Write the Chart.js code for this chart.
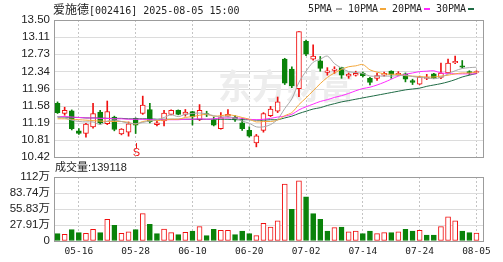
<!DOCTYPE html>
<html lang="zh-CN">
  <head>
    <meta charset="UTF-8" />
    <title>爱施德 日K</title>
    <style>
      html,
      body {
        margin: 0;
        padding: 0;
        background: #fff;
      }
      body {
        width: 503px;
        height: 262px;
        position: relative;
        overflow: hidden;
        color: #222;
      }
      canvas {
        position: absolute;
        left: 0;
      }
      #price {
        top: 0;
      }
      #volume {
        top: 160px;
      }
      .title {
        position: absolute;
        left: 53px;
        top: 2px;
        line-height: 14px;
        white-space: nowrap;
        font-family: 'DejaVu Sans Mono', monospace;
        font-size: 10px;
      }
      .cn {
        font-family: 'Noto Sans CJK SC', sans-serif;
        font-size: 12px;
      }
      .legend span {
        position: absolute;
        top: 2px;
        line-height: 14px;
        font-family: 'DejaVu Sans Mono', monospace;
        font-size: 10px;
        white-space: nowrap;
      }
      .legend i {
        position: absolute;
        top: 8px;
        width: 6px;
        height: 2px;
      }
      .vol-label {
        position: absolute;
        left: 55px;
        top: 160px;
        line-height: 14px;
        font-family: 'Liberation Sans', 'Noto Sans CJK SC', sans-serif;
        font-size: 11px;
        white-space: nowrap;
      }
    </style>
  </head>
  <body>
    <canvas id="price" width="503" height="168"></canvas>
    <canvas id="volume" width="503" height="102"></canvas>

    <div class="title"><span class="cn">爱施德</span>[002416] 2025-08-05 15:00</div>
    <div class="legend">
      <span style="left: 308px">5PMA</span><i style="left: 336px; background: #a8a8a8"></i>
      <span style="left: 348px">10PMA</span><i style="left: 380px; background: #f3a73a"></i>
      <span style="left: 392px">20PMA</span><i style="left: 424px; background: #ff2cff"></i>
      <span style="left: 436px">30PMA</span><i style="left: 468px; background: #1f6b45"></i>
    </div>
    <div class="vol-label">成交量:139118</div>

    <script src="https://cdn.jsdelivr.net/npm/chart.js"></script>

    <script>
      // trading days shown on the chart
      const dates = [
        '05-13', '05-14', '05-15', '05-16', '05-19', '05-20', '05-21', '05-22', '05-23', '05-26',
        '05-27', '05-28', '05-29', '05-30', '06-03', '06-04', '06-05', '06-06', '06-09', '06-10',
        '06-11', '06-12', '06-13', '06-16', '06-17', '06-18', '06-19', '06-20', '06-23', '06-24',
        '06-25', '06-26', '06-27', '06-30', '07-01', '07-02', '07-03', '07-04', '07-07', '07-08',
        '07-09', '07-10', '07-11', '07-14', '07-15', '07-16', '07-17', '07-18', '07-21', '07-22',
        '07-23', '07-24', '07-25', '07-28', '07-29', '07-30', '07-31', '08-01', '08-04', '08-05',
      ];
      const dateTicks = ['05-16', '05-28', '06-10', '06-20', '07-02', '07-14', '07-24', '08-05'];

      const opens = [
        11.63, 11.40, 11.46, 11.01, 10.95, 11.10, 11.43, 11.17, 11.32, 10.94,
        10.98, 11.29, 11.40, 11.49, 11.15, 11.23, 11.38, 11.47, 11.38, 11.44,
        11.26, 11.40, 11.25, 11.06, 11.34, 11.32, 11.19, 11.02, 10.74, 11.02,
        11.35, 11.45, 12.62, 12.40, 11.96, 13.02, 12.62, 12.58, 12.32, 12.37,
        12.43, 12.24, 12.26, 12.31, 12.19, 12.19, 12.26, 12.35, 12.27, 12.29,
        12.14, 12.06, 12.19, 12.29, 12.21, 12.31, 12.54, 12.47, 12.34, 12.32,
      ];
      const highs = [
        11.66, 11.54, 11.48, 11.06, 11.18, 11.63, 11.47, 11.68, 11.34, 11.06,
        11.21, 11.30, 11.79, 11.63, 11.27, 11.47, 11.48, 11.48, 11.49, 11.45,
        11.60, 11.45, 11.32, 11.42, 11.49, 11.35, 11.29, 11.10, 10.93, 11.42,
        11.56, 11.77, 12.64, 12.45, 13.24, 13.05, 12.94, 12.68, 12.43, 12.45,
        12.44, 12.31, 12.35, 12.33, 12.21, 12.31, 12.33, 12.36, 12.34, 12.31,
        12.17, 12.24, 12.28, 12.30, 12.53, 12.62, 12.69, 12.59, 12.36, 12.36,
      ];
      const lows = [
        11.40, 11.36, 11.03, 10.93, 10.87, 11.07, 11.16, 11.15, 11.01, 10.92,
        10.89, 10.95, 11.38, 11.19, 11.12, 11.12, 11.37, 11.37, 11.34, 11.14,
        11.24, 11.33, 11.12, 11.05, 11.32, 11.22, 11.02, 10.87, 10.65, 10.98,
        11.33, 11.42, 12.05, 11.98, 11.78, 12.70, 12.60, 12.35, 12.26, 12.30,
        12.19, 12.19, 12.24, 12.22, 12.04, 12.14, 12.24, 12.19, 12.25, 12.11,
        12.05, 12.05, 12.16, 12.18, 12.18, 12.29, 12.52, 12.42, 12.27, 12.30,
      ];
      const closes = [
        11.42, 11.47, 11.06, 10.95, 11.16, 11.40, 11.19, 11.44, 11.04, 11.05,
        11.17, 11.14, 11.59, 11.21, 11.19, 11.41, 11.47, 11.38, 11.43, 11.32,
        11.47, 11.37, 11.14, 11.31, 11.38, 11.26, 11.06, 10.89, 10.90, 11.40,
        11.50, 11.66, 12.08, 12.02, 13.24, 12.73, 12.69, 12.41, 12.36, 12.40,
        12.26, 12.28, 12.30, 12.25, 12.10, 12.25, 12.30, 12.28, 12.30, 12.17,
        12.10, 12.22, 12.21, 12.20, 12.31, 12.53, 12.57, 12.44, 12.31, 12.34,
      ];

      // moving averages
      const ma5 = [
        11.33, 11.30, 11.25, 11.22, 11.21, 11.21, 11.15, 11.23, 11.25, 11.22,
        11.18, 11.17, 11.20, 11.23, 11.26, 11.31, 11.37, 11.33, 11.38, 11.40,
        11.41, 11.39, 11.35, 11.32, 11.33, 11.29, 11.23, 11.18, 11.10, 11.10,
        11.15, 11.27, 11.51, 11.73, 12.10, 12.35, 12.55, 12.62, 12.69, 12.52,
        12.42, 12.34, 12.32, 12.30, 12.24, 12.24, 12.24, 12.24, 12.25, 12.26,
        12.23, 12.21, 12.20, 12.18, 12.21, 12.29, 12.36, 12.41, 12.43, 12.44,
      ];
      const ma10 = [
        11.28, 11.28, 11.27, 11.26, 11.25, 11.24, 11.23, 11.22, 11.22, 11.22,
        11.20, 11.16, 11.22, 11.24, 11.24, 11.25, 11.27, 11.27, 11.31, 11.33,
        11.36, 11.38, 11.34, 11.35, 11.37, 11.35, 11.31, 11.27, 11.21, 11.22,
        11.22, 11.25, 11.35, 11.42, 11.60, 11.75, 11.91, 12.07, 12.21, 12.31,
        12.39, 12.45, 12.47, 12.50, 12.38, 12.33, 12.29, 12.28, 12.28, 12.25,
        12.24, 12.23, 12.22, 12.22, 12.24, 12.26, 12.29, 12.31, 12.31, 12.33,
      ];
      const ma20 = [
        11.33, 11.33, 11.32, 11.31, 11.30, 11.30, 11.29, 11.29, 11.28, 11.28,
        11.27, 11.27, 11.27, 11.26, 11.26, 11.26, 11.26, 11.26, 11.27, 11.27,
        11.28, 11.27, 11.28, 11.30, 11.30, 11.30, 11.29, 11.27, 11.26, 11.27,
        11.29, 11.32, 11.34, 11.38, 11.48, 11.55, 11.61, 11.67, 11.71, 11.76,
        11.80, 11.85, 11.91, 11.96, 11.99, 12.04, 12.10, 12.17, 12.24, 12.28,
        12.31, 12.34, 12.35, 12.36, 12.31, 12.30, 12.29, 12.29, 12.29, 12.29,
      ];
      const ma30 = [
        11.32, 11.32, 11.31, 11.31, 11.30, 11.30, 11.30, 11.29, 11.29, 11.29,
        11.28, 11.28, 11.28, 11.28, 11.27, 11.27, 11.27, 11.27, 11.27, 11.27,
        11.27, 11.27, 11.27, 11.27, 11.27, 11.26, 11.26, 11.26, 11.25, 11.25,
        11.26, 11.26, 11.30, 11.34, 11.40, 11.45, 11.50, 11.53, 11.58, 11.62,
        11.66, 11.69, 11.72, 11.75, 11.78, 11.81, 11.84, 11.87, 11.90, 11.93,
        11.95, 11.97, 12.01, 12.04, 12.07, 12.11, 12.16, 12.22, 12.26, 12.30,
      ];

      // volume in 万 shares
      const volumes = [
        12.8, 11.7, 19.8, 14.6, 13.4, 20.4, 14.6, 37.9, 27.4, 13.4,
        15.8, 19.8, 47.8, 29.2, 12.8, 21.0, 14.6, 11.1, 15.2, 17.5,
        25.1, 9.3, 20.4, 18.7, 18.7, 11.1, 17.5, 12.8, 9.3, 30.9,
        24.5, 35.0, 99.2, 55.4, 105.0, 77.0, 47.8, 37.9, 17.5, 23.3,
        24.5, 15.8, 17.5, 12.8, 17.5, 12.8, 14.6, 14.6, 15.8, 20.4,
        17.5, 18.7, 10.5, 10.5, 25.1, 42.0, 35.0, 17.5, 14.6, 13.91,
      ];

      const priceTicks = [10.42, 10.805, 11.19, 11.575, 11.96, 12.345, 12.73, 13.115, 13.5];
      const priceTickLabels = ['10.42', '10.81', '11.19', '11.58', '11.96', '12.34', '12.73', '13.11', '13.50'];
      const volumeTicks = [0, 27.915, 55.83, 83.745, 111.66];
      const volumeTickLabels = ['0', '27.91万', '55.83万', '83.74万', '112万'];

      const signalIndex = 11;

      const RED = '#f01010';
      const GREEN = '#0a820a';

      const candleUp = dates.map((d, i) => closes[i] >= opens[i]);
      // volume colour follows change against the previous close
      const volumeUp = dates.map((d, i) =>
        i === 0 ? closes[i] >= opens[i] : closes[i] >= closes[i - 1]
      );

      const labelFont = { family: "'Liberation Sans', 'Noto Sans CJK SC', sans-serif", size: 11.5 };

      function gridColor(ctx) {
        return dateTicks.includes(dates[ctx.index]) ? '#c4c4c4' : 'rgba(0,0,0,0)';
      }

      // horizontal grid + outer frame, reaching a few px past the last bar like the original
      const framePlugin = {
        id: 'frame',
        beforeDatasetsDraw(chart) {
          const { ctx, chartArea: a, scales } = chart;
          const y = scales.y;
          const right = Math.round(a.right) + 3;
          ctx.save();
          ctx.lineWidth = 1;
          ctx.strokeStyle = '#dcdcdc';
          y.ticks.forEach((t) => {
            const py = Math.round(y.getPixelForValue(t.value)) + 0.5;
            ctx.beginPath();
            ctx.moveTo(a.left, py);
            ctx.lineTo(right, py);
            ctx.stroke();
          });
          ctx.strokeStyle = '#9c9c9c';
          ctx.strokeRect(
            Math.round(a.left) + 0.5,
            Math.round(a.top) + 0.5,
            right - Math.round(a.left),
            Math.round(a.bottom) - Math.round(a.top)
          );
          ctx.restore();
        },
      };

      const watermarkPlugin = {
        id: 'watermark',
        beforeDatasetsDraw(chart) {
          const { ctx } = chart;
          ctx.save();
          ctx.fillStyle = '#ededed';
          ctx.font = "bold 34px 'Noto Sans CJK SC'";
          ctx.textBaseline = 'middle';
          ctx.fillText('东方财富', 218, 86);
          ctx.restore();
        },
      };

      const signalPlugin = {
        id: 'signal',
        afterDatasetsDraw(chart) {
          const { ctx, scales } = chart;
          const px = Math.round(scales.x.getPixelForValue(signalIndex)) + 0.5;
          const bottom = scales.y.bottom;
          ctx.save();
          ctx.strokeStyle = RED;
          ctx.fillStyle = RED;
          ctx.lineWidth = 1;
          ctx.beginPath();
          ctx.moveTo(px, bottom - 14);
          ctx.lineTo(px, bottom - 9);
          ctx.stroke();
          ctx.font = "11px 'Liberation Sans'";
          ctx.textAlign = 'center';
          ctx.textBaseline = 'alphabetic';
          ctx.fillText('S', px, bottom - 1);
          ctx.restore();
        },
      };

      function maLine(label, data, color) {
        return {
          type: 'line',
          label,
          data,
          borderColor: color,
          borderWidth: 1,
          pointRadius: 0,
          tension: 0.3,
          order: 0,
        };
      }

      new Chart(document.getElementById('price'), {
        type: 'bar',
        data: {
          labels: dates,
          datasets: [
            maLine('5PMA', ma5, '#a8a8a8'),
            maLine('10PMA', ma10, '#f3a73a'),
            maLine('20PMA', ma20, '#ff2cff'),
            maLine('30PMA', ma30, '#1f6b45'),
            {
              label: 'body',
              data: dates.map((d, i) => [opens[i], closes[i]]),
              backgroundColor: candleUp.map((up) => (up ? '#ffffff' : GREEN)),
              borderColor: candleUp.map((up) => (up ? RED : GREEN)),
              borderWidth: 1,
              borderSkipped: false,
              barThickness: 5,
              grouped: false,
              order: 1,
            },
            {
              label: 'wick',
              data: dates.map((d, i) => [lows[i], highs[i]]),
              backgroundColor: candleUp.map((up) => (up ? RED : GREEN)),
              borderWidth: 0,
              barThickness: 1,
              grouped: false,
              order: 2,
            },
          ],
        },
        options: {
          responsive: false,
          animation: false,
          events: [],
          layout: { padding: { top: 20, right: 23, left: 0, bottom: 0 } },
          plugins: { legend: { display: false }, tooltip: { enabled: false } },
          scales: {
            x: {
              offset: true,
              grid: { offset: false, drawTicks: false, color: gridColor },
              border: { display: false, dash: [2, 2] },
              ticks: { display: false },
              afterFit: (s) => {
                s.height = 8;
              },
            },
            y: {
              min: 10.42,
              max: 13.5,
              afterBuildTicks: (s) => {
                s.ticks = priceTicks.map((v) => ({ value: v }));
              },
              afterFit: (s) => {
                s.width = 54;
              },
              grid: { drawOnChartArea: false, drawTicks: false },
              border: { display: false },
              ticks: {
                autoSkip: false,
                padding: 4,
                color: '#222',
                font: labelFont,
                callback: (v, i) => priceTickLabels[i],
              },
            },
          },
        },
        plugins: [framePlugin, watermarkPlugin, signalPlugin],
      });

      new Chart(document.getElementById('volume'), {
        type: 'bar',
        data: {
          labels: dates,
          datasets: [
            {
              label: '成交量',
              data: volumes,
              backgroundColor: volumeUp.map((up) => (up ? '#ffffff' : GREEN)),
              borderColor: volumeUp.map((up) => (up ? RED : GREEN)),
              borderWidth: 1,
              borderSkipped: false,
              barThickness: 5,
            },
          ],
        },
        options: {
          responsive: false,
          animation: false,
          events: [],
          layout: { padding: { top: 17, right: 23, left: 0, bottom: 0 } },
          plugins: { legend: { display: false }, tooltip: { enabled: false } },
          scales: {
            x: {
              offset: true,
              grid: { offset: false, drawTicks: false, color: gridColor },
              border: { display: false, dash: [2, 2] },
              ticks: {
                autoSkip: false,
                maxRotation: 0,
                minRotation: 0,
                padding: 5,
                color: '#222',
                font: { family: "'DejaVu Sans Mono', monospace", size: 9.5 },
                callback: (v, i) => (dateTicks.includes(dates[i]) ? dates[i] : ''),
              },
              afterFit: (s) => {
                s.height = 21;
              },
            },
            y: {
              min: 0,
              max: 111.66,
              afterBuildTicks: (s) => {
                s.ticks = volumeTicks.map((v) => ({ value: v }));
              },
              afterFit: (s) => {
                s.width = 54;
              },
              grid: { drawOnChartArea: false, drawTicks: false },
              border: { display: false },
              ticks: {
                autoSkip: false,
                padding: 4,
                color: '#222',
                font: labelFont,
                callback: (v, i) => volumeTickLabels[i],
              },
            },
          },
        },
        plugins: [framePlugin],
      });
    </script>
  </body>
</html>
